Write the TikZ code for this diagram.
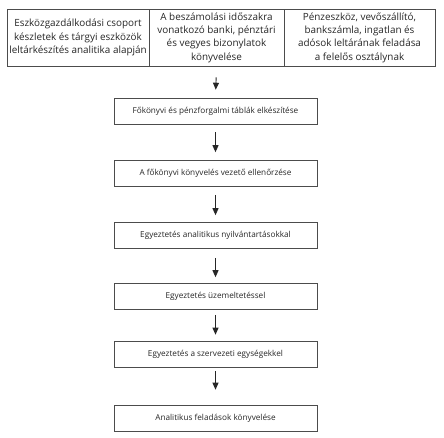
\documentclass[tikz,border=0pt]{standalone}
\usepackage{fontspec}
\setmainfont{Open Sans}
\usetikzlibrary{arrows.meta}
\begin{document}
\begin{tikzpicture}[x=1pt,y=-1pt,
  cell/.style={draw=black!70,line width=0.6pt,inner sep=0pt,align=center,
    font=\fontsize{9.9}{13.4}\selectfont,text=black!85},
  stepbox/.style={draw=black!70,line width=0.6pt,minimum width=203pt,minimum height=26pt,
    inner sep=0pt,font=\fontsize{8.2}{9}\selectfont,text=black!85},
  arr/.style={-{Triangle[length=7pt,width=6pt]},line width=0.9pt,black!85}]
\useasboundingbox (0,0) rectangle (444,437);
\node[cell,minimum width=142pt,minimum height=57pt] (c1) at (78,37.5) {Eszközgazdálkodási csoport\\készletek és tárgyi eszközök\\leltárkészítés analitika alapján};
\node[cell,minimum width=135pt,minimum height=57pt] (c2) at (216.5,37.5) {A beszámolási időszakra\\vonatkozó banki, pénztári\\és vegyes bizonylatok\\könyvelése};
\node[cell,minimum width=151pt,minimum height=57pt] (c3) at (359.5,37.5) {Pénzeszköz, vevőszállító,\\bankszámla, ingatlan és\\adósok leltárának feladása\\a felelős osztálynak};
\node[stepbox] (b1) at (215.5,111) {Főkönyvi és pénzforgalmi táblák elkészítése};
\node[stepbox] (b2) at (215.5,173.5) {A főkönyvi könyvelés vezető ellenőrzése};
\node[stepbox] (b3) at (215.5,235.5) {Egyeztetés analitikus nyilvántartásokkal};
\node[stepbox] (b4) at (215.5,296.5) {Egyeztetés üzemeltetéssel};
\node[stepbox] (b5) at (215.5,354) {Egyeztetés a szervezeti egységekkel};
\node[stepbox] (b6) at (215.5,418) {Analitikus feladások könyvelése};
\draw[arr,shorten <=11pt,shorten >=8pt] (c2.south) -- (b1.north);
\draw[arr,shorten <=8pt,shorten >=8pt] (b1) -- (b2);
\draw[arr,shorten <=8pt,shorten >=7pt] (b2) -- (b3);
\draw[arr,shorten <=9pt,shorten >=6pt] (b3) -- (b4);
\draw[arr,shorten <=5pt,shorten >=6pt] (b4) -- (b5);
\draw[arr,shorten <=4pt,shorten >=15pt] (b5) -- (b6);
\end{tikzpicture}
\end{document}
